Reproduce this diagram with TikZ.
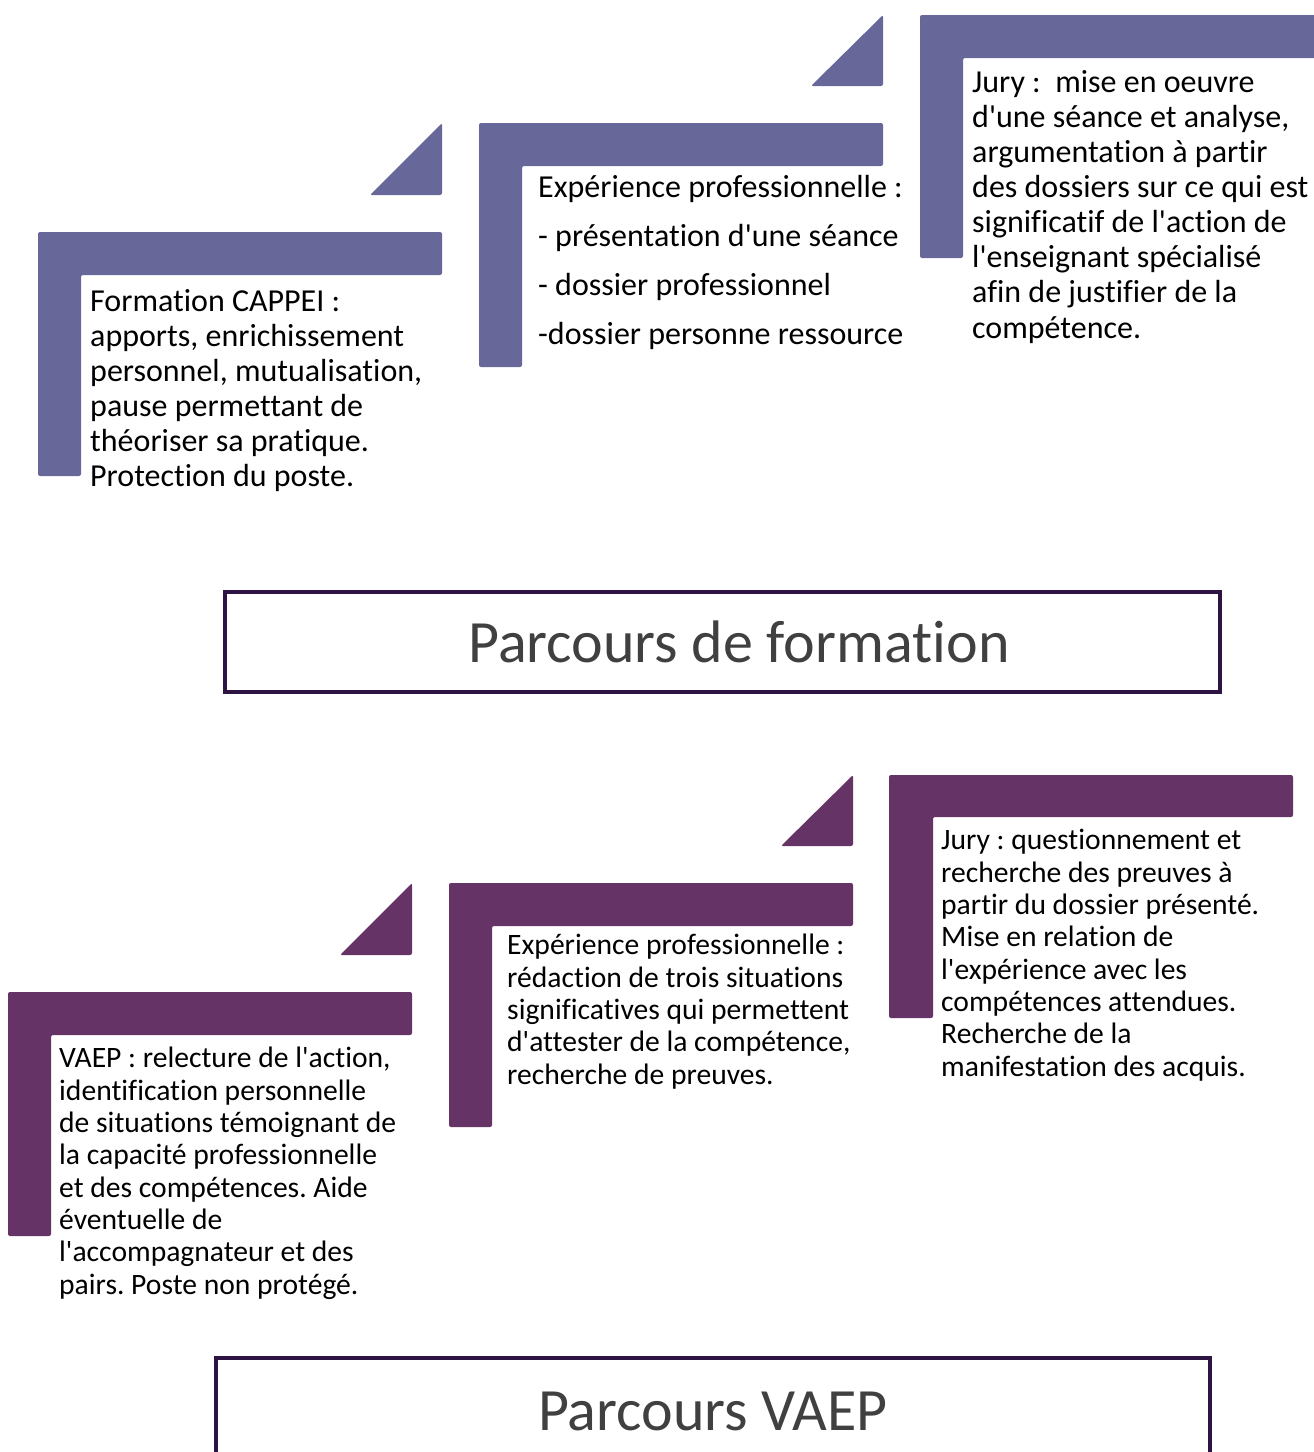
\documentclass[tikz,border=0pt]{standalone}
\usepackage{fontspec}
\setmainfont{Carlito}[Ligatures={TeXOff,CommonOff}]
\definecolor{topc}{HTML}{67679A}
\definecolor{botc}{HTML}{663366}
\definecolor{framec}{HTML}{2E1442}
\definecolor{titlec}{HTML}{404040}
\frenchspacing
\begin{document}
\begin{tikzpicture}[x=1pt,y=-1pt,
  bar/.style={rounded corners=2pt},
  txtA/.style={anchor=base west,inner sep=0pt,align=left,font=\fontsize{32}{35.1}\selectfont},
  txtB/.style={anchor=base west,inner sep=0pt,align=left,font=\fontsize{29.6}{32.3}\selectfont},
  titlebox/.style={draw=framec,line width=4pt,fill=white},
  titletxt/.style={inner sep=0pt,text=titlec,font=\fontsize{60}{70}\selectfont}]
\useasboundingbox (0,0) rectangle (1314,1452);
% ---------- top section ----------
\fill[topc,bar] (38,232) -- (442,232) -- (442,275) -- (81,275) -- (81,476) -- (38,476) -- cycle;
\fill[topc,bar] (370,195) -- (442,123) -- (442,195) -- cycle;
\fill[topc,bar] (479,123) -- (883,123) -- (883,166) -- (522,166) -- (522,367) -- (479,367) -- cycle;
\fill[topc,bar] (811,86) -- (883,15) -- (883,86) -- cycle;
\fill[topc,bar] (920,15) -- (1320,15) -- (1320,58) -- (963,58) -- (963,258) -- (920,258) -- cycle;
% multi-line nodes: base anchor = baseline of the last line
\node[txtA] (t1) at (90,486.5) {Formation CAPPEI :\\apports, enrichissement\\personnel, mutualisation,\\pause permettant de\\théoriser sa pratique.\\Protection du poste.};
\node[txtA] (t2a) at (538,197) {Expérience professionnelle :};
\node[txtA] (t2b) at (538,246) {- présentation d'une séance};
\node[txtA] (t2c) at (538,295) {- dossier professionnel};
\node[txtA] (t2d) at (538,344) {-dossier personne ressource};
\node[txtA] (t3) at (972,338) {Jury :\ \ mise en oeuvre\\d'une séance et analyse,\\argumentation à partir\\des dossiers sur ce qui est\\significatif de l'action de\\l'enseignant spécialisé\\afin de justifier de la\\compétence.};
\draw[titlebox] (225,592) rectangle (1220,692);
\node[titletxt,anchor=base] (title1) at (739,662) {Parcours de formation};
% ---------- bottom section ----------
\fill[botc,bar] (8,992) -- (412,992) -- (412,1035) -- (51,1035) -- (51,1236) -- (8,1236) -- cycle;
\fill[botc,bar] (340,955) -- (412,883) -- (412,955) -- cycle;
\fill[botc,bar] (449,883) -- (853,883) -- (853,926) -- (492,926) -- (492,1127) -- (449,1127) -- cycle;
\fill[botc,bar] (781,846) -- (853,775) -- (853,846) -- cycle;
\fill[botc,bar] (889,775) -- (1293,775) -- (1293,817) -- (933,817) -- (933,1018) -- (889,1018) -- cycle;
\node[txtB] (b1) at (59,1294) {VAEP : relecture de l'action,\\identification personnelle\\de situations témoignant de\\la capacité professionnelle\\et des compétences. Aide\\éventuelle de\\l'accompagnateur et des\\pairs. Poste non protégé.};
\node[txtB] (b2) at (507,1084) {Expérience professionnelle :\\rédaction de trois situations\\significatives qui permettent\\d'attester de la compétence,\\recherche de preuves.};
\node[txtB] (b3) at (941,1076) {Jury : questionnement et\\recherche des preuves à\\partir du dossier présenté.\\Mise en relation de\\l'expérience avec les\\compétences attendues.\\Recherche de la\\manifestation des acquis.};
\draw[titlebox] (216,1470) -- (216,1358) -- (1210,1358) -- (1210,1470);
\node[titletxt,anchor=base] (title2) at (713,1430) {Parcours VAEP};
\end{tikzpicture}
\end{document}
